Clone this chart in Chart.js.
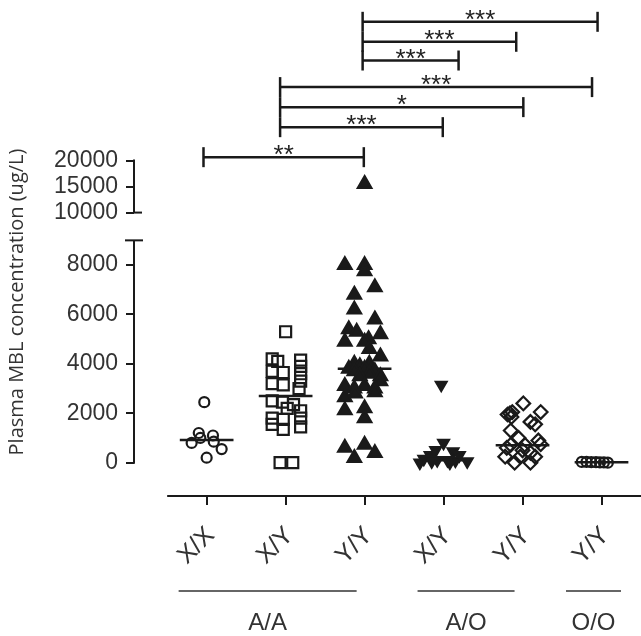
<!DOCTYPE html>
<html>
<head>
<meta charset="utf-8">
<script src="https://cdn.jsdelivr.net/npm/chart.js@4.4.1/dist/chart.umd.min.js"></script>
<style>
  html, body { margin: 0; padding: 0; background: #fff; }
  #wrap { width: 641px; height: 636px; }
</style>
</head>
<body>
<div id="wrap"><canvas id="chart"></canvas></div>
<script>
// categories on the x axis and the genotype groups under them
const categories = ['X/X', 'X/Y', 'Y/Y', 'X/Y', 'Y/Y', 'Y/Y'];
const groupNames = ['A/A', 'A/O', 'O/O'];
const groupFirst = [0, 3, 5];
const groupLast = [2, 4, 5];

// plasma MBL values (ug/L) per column, with the horizontal scatter
const valuesXX = [2450, 1200, 1000, 1100, 850, 800, 550, 200];
const jitterXX = [-0.03, -0.10, -0.08, 0.08, 0.09, -0.19, 0.19, 0.00];

const valuesAAXY = [5300, 4200, 4100, 4150, 3900, 3700, 3650, 3600, 3300, 3200, 3150, 3000, 2500, 2450, 2350, 2200, 2100, 1800, 1750, 1800, 1550, 1450, 1350, 0, 0];
const jitterAAXY = [0.00, -0.17, -0.10, 0.19, 0.19, -0.17, -0.03, 0.19, 0.19, -0.17, -0.03, 0.17, -0.17, -0.04, 0.10, 0.02, 0.19, -0.17, -0.03, 0.19, -0.17, 0.19, -0.03, -0.07, 0.09];

const valuesAAYY = [15500, 8000, 8000, 7750, 7100, 6800, 6200, 5800, 5400, 5300, 5200, 5000, 4900, 4900, 4600, 4300, 4000, 4000, 3900, 3800, 3800, 3700, 3700, 3600, 3500, 3500, 3300, 3100, 3100, 3000, 3000, 2800, 2650, 2850, 2120, 2200, 1800, 600, 720, 390, 190];
const jitterAAYY = [0.00, -0.25, 0.00, 0.00, 0.13, -0.13, -0.13, 0.13, -0.20, -0.10, 0.20, 0.05, -0.25, 0.00, 0.06, 0.20, -0.13, 0.06, -0.06, -0.20, 0.00, 0.13, -0.13, 0.06, 0.20, -0.06, 0.20, -0.25, 0.00, 0.13, -0.13, -0.12, -0.25, 0.13, -0.25, 0.00, 0.00, -0.25, 0.00, 0.13, -0.13];

const valuesAOXY = [3150, 800, 500, 450, 300, 300, 150, 100, 100, 80, 50, 50, 0, 0];
const jitterAOXY = [-0.03, 0.00, -0.10, 0.12, -0.17, 0.20, -0.25, -0.08, 0.05, 0.15, 0.30, -0.15, 0.08, -0.30];

const valuesAOYY = [2400, 2050, 2000, 1950, 1850, 2050, 1650, 1550, 1300, 1000, 900, 750, 720, 720, 600, 500, 400, 240, 240, 240, 0, 0];
const jitterAOYY = [0.01, -0.13, -0.16, -0.19, -0.14, 0.23, 0.10, 0.16, -0.15, -0.05, 0.20, 0.23, -0.15, 0.03, -0.20, 0.00, 0.10, -0.22, -0.03, 0.16, -0.10, 0.10];

const valuesOOYY = [30, 30, 20, 20, 10, 10, 0];
const jitterOOYY = [-0.25, -0.19, -0.13, -0.07, -0.02, 0.03, 0.08];

const medians = [920, 2700, 3800, 100, 700, 20];

// y axis ticks of the two axis segments, and where the axis is broken
const lowTicks = [0, 2000, 4000, 6000, 8000];
const highTicks = [10000, 15000, 20000];
const axisBreak = [9000, 10000];

// significance brackets: from / to column (x units), height on the upper axis, label
const bracketFrom = [1.975, 1.975, 1.975, 0.93, 0.93, 0.93, -0.04];
const bracketTo = [4.95, 3.92, 3.19, 4.88, 4.01, 2.99, 1.99];
const bracketLevel = [46670, 42830, 39230, 34120, 30270, 26420, 20650];
const bracketLabel = ['***', '***', '***', '***', '*', '***', '**'];

const ink = '#1a1a1a';
const textCol = '#333';
const FONT = '"Liberation Sans", Arial, sans-serif';

const columns = [
  { vals: valuesXX, jit: jitterXX, style: 'circle', r: 5, fill: false },
  { vals: valuesAAXY, jit: jitterAAXY, style: 'rect', r: 7.8, fill: false },
  { vals: valuesAAYY, jit: jitterAAYY, style: 'triangle', r: 7.8, fill: true },
  { vals: valuesAOXY, jit: jitterAOXY, style: 'triangle', r: 6.2, fill: true, rot: 180 },
  { vals: valuesAOYY, jit: jitterAOYY, style: 'rectRot', r: 6.8, fill: false },
  { vals: valuesOOYY, jit: jitterOOYY, style: 'circle', r: 5, fill: false }
];

const datasets = [];
columns.forEach((c, i) => {
  const pts = c.vals.map((v, k) => ({ x: i + c.jit[k], y: v }));
  const base = {
    pointStyle: c.style,
    pointRadius: c.r,
    pointRotation: c.rot || 0,
    pointBorderWidth: 2.2,
    borderColor: ink,
    backgroundColor: c.fill ? ink : 'rgba(0,0,0,0)',
    pointHoverRadius: c.r
  };
  datasets.push(Object.assign({ data: pts.filter(p => p.y < axisBreak[0]), yAxisID: 'y' }, base));
  const high = pts.filter(p => p.y >= axisBreak[1]);
  if (high.length) datasets.push(Object.assign({ data: high, yAxisID: 'yTop' }, base));
  // median line
  datasets.push({
    data: [{ x: i - 0.34, y: medians[i] }, { x: i + 0.34, y: medians[i] }],
    yAxisID: 'y',
    showLine: true,
    borderColor: ink,
    borderWidth: 2.5,
    pointRadius: 0
  });
});

function seg(ctx, x1, y1, x2, y2) {
  ctx.beginPath(); ctx.moveTo(x1, y1); ctx.lineTo(x2, y2); ctx.stroke();
}

const decor = {
  id: 'decor',
  afterDraw(chart) {
    const { ctx, chartArea: a, scales: { x, y, yTop } } = chart;
    ctx.save();
    ctx.strokeStyle = ink;
    ctx.lineWidth = 2;
    // x axis, starts at the first column band
    seg(ctx, x.getPixelForValue(-0.5), a.bottom, a.right, a.bottom);
    // broken y axis
    const ax = a.left;
    const lowTop = y.getPixelForValue(axisBreak[0]);
    seg(ctx, ax, y.getPixelForValue(0) + 1, ax, lowTop);
    seg(ctx, ax - 9, lowTop, ax + 9, lowTop);
    const hiBottom = yTop.getPixelForValue(axisBreak[1]);
    seg(ctx, ax, yTop.getPixelForValue(highTicks[highTicks.length - 1]) - 1, ax, hiBottom);
    seg(ctx, ax - 1, hiBottom, ax + 8, hiBottom);

    // significance brackets
    ctx.lineWidth = 2.5;
    ctx.fillStyle = '#222';
    ctx.font = '26px ' + FONT;
    ctx.textAlign = 'center';
    ctx.textBaseline = 'alphabetic';
    bracketFrom.forEach((f, i) => {
      const x1 = x.getPixelForValue(f), x2 = x.getPixelForValue(bracketTo[i]);
      const by = yTop.getPixelForValue(bracketLevel[i]);
      seg(ctx, x1, by, x2, by);
      seg(ctx, x1, by - 10, x1, by + 10);
      seg(ctx, x2, by - 10, x2, by + 10);
      ctx.fillText(bracketLabel[i], (x1 + x2) / 2, by + 6);
    });

    // genotype groups under the x labels
    const lineShift = [-18, -17, -8];
    const halfWidth = [89, 48.5, 27.5];
    ctx.lineWidth = 1.5;
    ctx.strokeStyle = '#333';
    ctx.fillStyle = textCol;
    ctx.font = '24px ' + FONT;
    groupNames.forEach((g, i) => {
      const cx = (x.getPixelForValue(groupFirst[i]) + x.getPixelForValue(groupLast[i])) / 2 + lineShift[i];
      const ly = chart.height - 45;
      seg(ctx, cx - halfWidth[i], ly, cx + halfWidth[i], ly);
      ctx.fillText(g, cx, chart.height - 6);
    });

    // y axis title
    ctx.translate(17, 302);
    ctx.rotate(-Math.PI / 2);
    ctx.font = '20px "Open Sans", sans-serif';
    ctx.textBaseline = 'middle';
    ctx.fillText('Plasma MBL concentration (ug/L)', 0, 0);
    ctx.restore();
  }
};

const yCommon = {
  type: 'linear',
  position: 'left',
  stack: 'left',
  border: { display: false },
  grid: { drawOnChartArea: false, drawTicks: true, tickLength: 8, lineWidth: 2, color: ink },
  ticks: {
    font: { family: FONT, size: 23 },
    color: textCol,
    padding: 8,
    callback: v => String(v)
  },
  afterFit: s => { s.width = 134; }
};

new Chart(document.getElementById('chart'), {
  type: 'scatter',
  data: { datasets },
  plugins: [decor],
  options: {
    responsive: true,
    maintainAspectRatio: false,
    animation: false,
    devicePixelRatio: 1,
    layout: { padding: 0, autoPadding: false },
    plugins: { legend: { display: false }, tooltip: { enabled: false } },
    scales: {
      x: {
        type: 'linear',
        position: 'bottom',
        min: -0.92,
        max: 5.5,
        border: { display: false },
        grid: { drawOnChartArea: false, drawTicks: true, tickLength: 9, lineWidth: 2, color: ink },
        afterBuildTicks: s => { s.ticks = categories.map((c, i) => ({ value: i })); },
        afterFit: s => { s.height = 140; },
        ticks: {
          autoSkip: false,
          minRotation: 45,
          maxRotation: 45,
          padding: 16,
          labelOffset: 4,
          font: { family: FONT, size: 25 },
          color: textCol,
          callback: (v, i) => categories[i]
        }
      },
      // lower segment first: the stack is laid out bottom-up
      y: Object.assign({}, yCommon, {
        min: -1350, max: 9505, stackWeight: 268,
        afterBuildTicks: s => { s.ticks = lowTicks.map(v => ({ value: v })); }
      }),
      yTop: Object.assign({}, yCommon, {
        min: 7058, max: 46672, stackWeight: 206,
        afterBuildTicks: s => { s.ticks = highTicks.map(v => ({ value: v })); }
      })
    }
  }
});
</script>
</body>
</html>
